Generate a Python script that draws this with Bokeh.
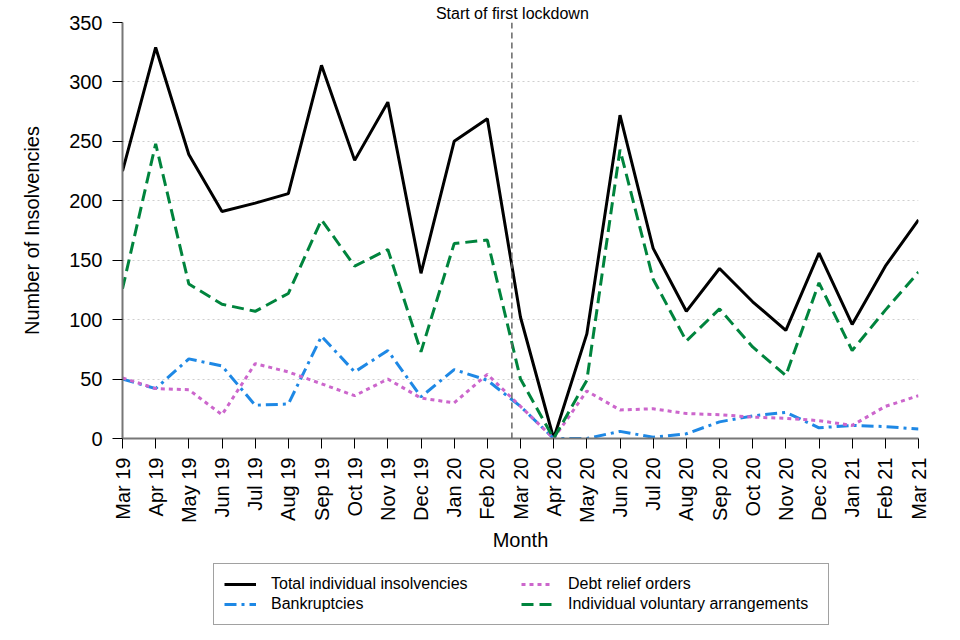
import math
from bokeh.plotting import figure
from bokeh.layouts import column
from bokeh.models import Span, Legend, LegendItem, FixedTicker, Range1d, Title
from bokeh.embed import file_html
from bokeh.resources import INLINE

months = ["Mar 19", "Apr 19", "May 19", "Jun 19", "Jul 19", "Aug 19", "Sep 19",
          "Oct 19", "Nov 19", "Dec 19", "Jan 20", "Feb 20", "Mar 20", "Apr 20",
          "May 20", "Jun 20", "Jul 20", "Aug 20", "Sep 20", "Oct 20", "Nov 20",
          "Dec 20", "Jan 21", "Feb 21", "Mar 21"]

total = [225, 329, 239, 191, 198, 206, 314, 234, 283, 139, 250, 269, 102, 0,
         88, 272, 160, 107, 143, 115, 91, 156, 96, 145, 184]
bankruptcies = [50, 42, 67, 61, 28, 29, 86, 56, 74, 35, 58, 49, 27, 0,
                0, 6, 1, 4, 14, 19, 22, 9, 11, 10, 8]
dro = [51, 42, 41, 20, 63, 56, 46, 36, 50, 34, 30, 54, 27, 0,
       40, 24, 25, 21, 20, 18, 17, 15, 11, 27, 36]
iva = [126, 248, 130, 113, 107, 122, 184, 145, 159, 73, 164, 167, 50, 0,
       49, 243, 134, 82, 109, 77, 53, 131, 74, 108, 140]

y_ticks = [0, 50, 100, 150, 200, 250, 300, 350]
lockdown_x = 11.74  # 23 March 2020
lockdown_label = "Start of first lockdown"

series = [
    ("Total individual insolvencies", total, "black", None),
    ("Bankruptcies", bankruptcies, "#1E88E5", "12 5 3 5"),
    ("Debt relief orders", dro, "#CC66CC", "4 4"),
    ("Individual voluntary arrangements", iva, "#00843D", "12 6"),
]
legend_order = [0, 2, 1, 3]

FONT = "Liberation Sans"
x = list(range(len(months)))

W, H1, H2 = 952, 560, 72
BL, BR, BT = 122, 34, 22
frame_h = 416
BB = H1 - BT - frame_h
frame_w = W - BL - BR

p = figure(width=W, height=H1, output_backend="svg", toolbar_location=None,
           x_range=Range1d(0, len(months) - 1), y_range=Range1d(0, 350),
           min_border_left=BL, min_border_right=BR, min_border_top=BT,
           min_border_bottom=BB)
p.outline_line_color = None
p.background_fill_color = "white"
p.border_fill_color = "white"

# axes
p.xaxis.ticker = FixedTicker(ticks=x)
p.xaxis.major_label_overrides = {i: m for i, m in enumerate(months)}
p.xaxis.major_label_orientation = math.pi / 2
p.yaxis.ticker = FixedTicker(ticks=y_ticks)
for ax in (p.xaxis, p.yaxis):
    ax.axis_line_color = "#777777"
    ax.axis_line_width = 2
    ax.major_tick_line_color = "black"
    ax.major_tick_line_width = 1
    ax.major_tick_out = 10
    ax.major_tick_in = 0
    ax.minor_tick_line_color = None
    ax.major_label_text_font = FONT
    ax.major_label_text_font_size = "20px"
    ax.major_label_text_color = "black"
    ax.axis_label_text_font = FONT
    ax.axis_label_text_font_size = "20px"
    ax.axis_label_text_font_style = "normal"
    ax.axis_label_text_color = "black"
p.xaxis.major_label_standoff = 9
p.yaxis.major_label_standoff = 10
p.xaxis.axis_label = "Month"
p.yaxis.axis_label = "Number of Insolvencies"
p.xaxis.axis_label_standoff = 3
p.yaxis.axis_label_standoff = 23

p.xgrid.grid_line_color = None
p.ygrid.grid_line_color = "#cfcfcf"
p.ygrid.grid_line_dash = "2 3"
p.ygrid.grid_line_width = 1

# lockdown marker
p.add_layout(Span(location=lockdown_x, dimension="height", line_color="#666666",
                  line_dash="6 4", line_width=1.5))
label_half_width = 76
p.add_layout(Title(text=lockdown_label, align="left",
                   offset=frame_w * lockdown_x / (len(months) - 1) - label_half_width,
                   text_font=FONT, text_font_size="16px", text_font_style="normal",
                   text_color="black", standoff=2, text_line_height=1.0), "above")

for name, vals, color, dash in series:
    kw = dict(line_color=color, line_width=3)
    if dash:
        kw["line_dash"] = dash
    p.line(x, vals, **kw)

# legend in its own strip below the chart (its series lie outside the visible range)
pl = figure(width=W, height=H2, output_backend="svg", toolbar_location=None,
            x_axis_type=None, y_axis_type=None, min_border=0,
            min_border_left=BL, min_border_right=BR,
            x_range=Range1d(-1000, -999), y_range=Range1d(-1000, -999))
pl.outline_line_color = None
pl.grid.visible = False
items = []
for i in legend_order:
    name, vals, color, dash = series[i]
    kw = dict(line_color=color, line_width=3)
    if dash:
        kw["line_dash"] = dash
    r = pl.line(x, vals, **kw)
    items.append(LegendItem(label=name, renderers=[r]))
legend_left_page = 213
legend = Legend(items=items, location=(legend_left_page - BL, 7),
                orientation="horizontal", ncols=2)
legend.label_text_font = FONT
legend.label_text_font_size = "16px"
legend.label_text_color = "black"
legend.label_height = 20
legend.glyph_height = 20
legend.glyph_width = 32
legend.label_standoff = 15
legend.label_width = 250
legend.spacing = 0
legend.padding = 10
legend.margin = 0
legend.border_line_color = "#444444"
legend.border_line_width = 1
legend.background_fill_alpha = 1
pl.add_layout(legend, "center")

layout = column(p, pl, spacing=0)
open("out.html", "w").write(file_html(layout, INLINE))
